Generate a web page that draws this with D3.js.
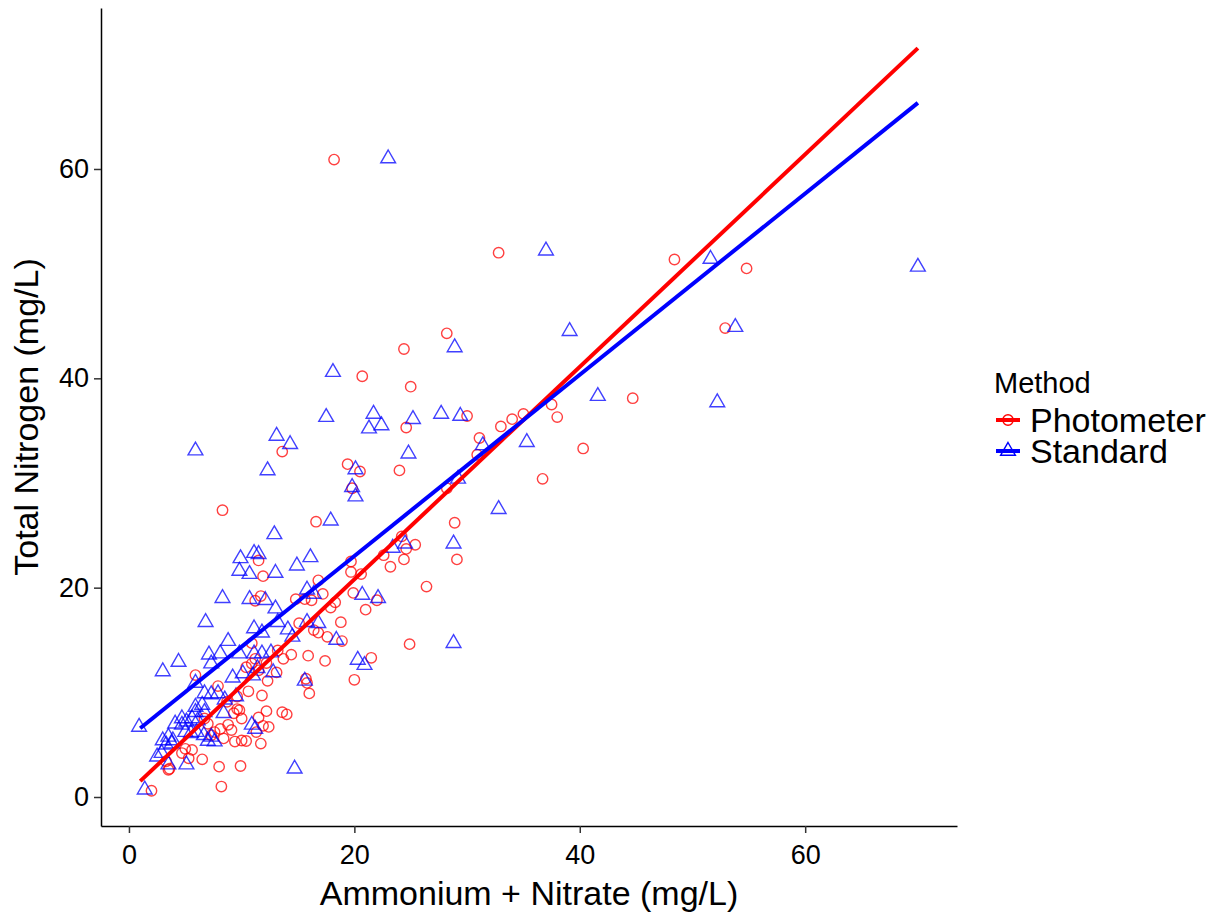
<!DOCTYPE html>
<html>
<head>
<meta charset="utf-8">
<script src="https://cdn.jsdelivr.net/npm/d3@7"></script>
<style>
  body { margin: 0; background: #fff; }
  svg { font-family: "Liberation Sans", Arial, sans-serif; }
</style>
</head>
<body>
<svg width="1219" height="917"></svg>
<script>
// Data
const methods = ["Photometer", "Standard"];

const photometer = [
    [18.2, 60.9], [32.8, 52.0], [28.2, 44.3], [24.4, 42.8], [20.7, 40.2], [25.0, 39.2],
    [44.7, 38.1], [37.5, 37.5], [38.0, 36.3], [30.0, 36.4], [34.0, 36.1], [35.0, 36.6],
    [33.0, 35.4], [24.6, 35.3], [31.1, 34.3], [30.9, 32.7], [40.3, 33.3], [36.7, 30.4],
    [28.2, 29.5], [28.9, 26.2], [29.1, 22.7], [48.4, 51.35], [54.8, 50.5], [52.9, 44.8],
    [13.6, 33.0], [24.0, 31.2], [19.4, 31.8], [20.5, 31.1], [19.8, 29.5], [16.6, 26.3],
    [11.5, 22.6], [11.9, 21.1], [24.2, 24.9], [24.6, 23.7], [25.4, 24.1], [22.6, 23.1],
    [23.2, 22.0], [24.4, 22.7], [19.7, 22.5], [19.7, 21.5], [20.6, 21.3], [26.4, 20.1],
    [16.8, 20.7], [17.2, 19.4], [19.9, 19.5], [22.0, 18.8], [15.6, 18.9], [14.8, 18.9],
    [16.2, 18.8], [11.7, 19.2], [11.2, 18.75], [18.3, 18.6], [17.9, 18.1], [21.0, 17.9],
    [18.8, 16.7], [15.1, 16.6], [16.4, 15.95], [16.8, 15.7], [17.6, 15.3], [18.9, 14.9],
    [24.9, 14.6], [13.2, 14.0], [14.4, 13.6], [13.7, 13.2], [15.9, 13.5], [17.4, 13.0],
    [21.5, 13.3], [11.2, 13.2], [12.2, 12.8], [13.1, 11.9], [12.3, 11.1], [15.7, 11.3],
    [15.8, 10.9], [16.0, 9.9], [20.0, 11.2], [11.8, 9.7], [12.2, 8.2], [13.6, 8.1],
    [14.0, 7.9], [11.5, 7.6], [11.9, 6.8], [12.4, 6.7], [11.3, 6.2], [11.7, 5.1],
    [5.9, 11.65], [7.9, 10.6], [10.4, 12.4], [10.9, 12.75], [11.5, 12.1], [10.6, 10.1],
    [9.6, 9.6], [8.7, 9.1], [9.6, 8.4], [9.8, 8.3], [10.0, 7.5], [9.3, 8.0],
    [8.8, 6.9], [8.1, 6.5], [9.1, 6.4], [8.4, 5.6], [9.4, 5.3], [10.0, 5.4],
    [10.4, 5.35], [6.7, 7.5], [7.0, 7.0], [7.6, 6.2], [7.3, 5.9], [5.0, 4.6],
    [5.6, 4.5], [4.7, 4.2], [5.3, 3.7], [6.5, 3.6], [3.3, 3.4], [3.6, 2.7],
    [3.5, 2.6], [8.0, 2.9], [9.9, 2.96], [8.2, 1.0], [2.0, 0.6], [8.3, 27.4],
    [10.9, 14.7]
];

const standard = [
    [23.0, 61.0], [37.0, 52.2], [28.9, 42.95], [39.1, 44.5], [18.1, 40.6], [41.6, 38.3],
    [17.5, 36.3], [21.7, 36.6], [25.2, 36.1], [27.7, 36.6], [29.4, 36.4], [21.3, 35.2],
    [22.4, 35.5], [31.4, 33.6], [35.3, 33.9], [29.2, 30.4], [32.8, 27.5], [28.8, 24.2],
    [28.8, 14.7], [51.6, 51.4], [70.0, 50.65], [53.8, 44.9], [52.2, 37.7], [13.1, 34.5],
    [14.3, 33.7], [24.8, 32.8], [12.3, 31.2], [20.1, 31.3], [19.8, 29.6], [20.1, 28.7],
    [17.9, 26.4], [12.9, 25.1], [11.5, 23.2], [16.1, 22.9], [14.9, 22.1], [13.0, 21.4],
    [23.4, 23.8], [24.5, 24.2], [15.8, 19.8], [16.4, 19.4], [20.7, 19.3], [22.1, 19.0],
    [12.1, 18.8], [13.0, 18.0], [15.8, 16.7], [16.8, 16.6], [14.1, 16.0], [13.2, 16.7],
    [11.8, 15.7], [14.5, 15.3], [18.4, 15.0], [11.8, 13.7], [12.6, 13.8], [20.3, 13.1],
    [20.9, 12.6], [11.4, 12.3], [12.8, 11.9], [15.6, 11.1], [11.2, 6.5], [14.7, 2.7],
    [3.0, 12.0], [4.4, 12.9], [5.9, 10.9], [6.7, 9.9], [7.3, 9.8], [7.9, 9.9],
    [9.2, 11.4], [10.1, 11.8], [11.0, 11.6], [9.5, 9.6], [8.5, 9.3], [5.9, 8.6],
    [6.5, 8.8], [6.7, 8.1], [5.9, 8.1], [5.1, 7.2], [4.1, 7.0], [4.7, 7.5],
    [5.6, 7.5], [6.1, 7.3], [8.4, 8.0], [10.9, 6.9], [7.3, 5.75], [6.0, 6.2],
    [3.5, 5.75], [3.0, 5.4], [3.9, 5.4], [3.3, 5.0], [3.8, 5.1], [6.65, 5.9],
    [7.0, 5.35], [7.6, 5.3], [5.5, 6.1], [5.0, 6.2], [4.7, 6.9], [2.5, 3.85],
    [2.9, 4.2], [3.5, 3.1], [5.1, 3.1], [1.4, 0.7], [0.9, 6.7], [5.9, 33.1],
    [9.9, 22.8], [11.1, 23.3], [9.8, 21.6], [10.7, 21.3], [8.3, 19.0], [10.7, 18.9],
    [6.8, 16.7], [11.1, 16.1], [8.8, 14.9], [7.1, 13.6], [8.1, 13.7], [9.8, 13.7],
    [7.3, 12.75], [11.1, 13.7]
];

// linear fits (lm) per method, drawn over the x range of the data
const fitRange = [1, 70];
const fitIntercept = [0.5, 5.7];
const fitSlope = [1.015, 0.866];

const xTicks = [0, 20, 40, 60];
const yTicks = [0, 20, 40, 60];
const xDomain = [-2.48, 73.47];
const yDomain = [-2.77, 75.38];

const colors = ["#FF0000", "#0000FF"];

const svg = d3.select("svg");
const panel = { left: 101, right: 957, top: 8, bottom: 826 };

const x = d3.scaleLinear().domain(xDomain).range([panel.left, panel.right]);
const y = d3.scaleLinear().domain(yDomain).range([panel.bottom, panel.top]);

// open triangle like ggplot shape 2
const triPath = "M0,-8.5L7.4,4.3L-7.4,4.3Z";

// Points: Photometer first, then Standard on top
svg.append("g")
    .selectAll("circle")
    .data(photometer)
    .enter()
    .append("circle")
    .attr("cx", d => x(d[0]))
    .attr("cy", d => y(d[1]))
    .attr("r", 5.2)
    .attr("fill", "none")
    .attr("stroke", colors[0])
    .attr("stroke-opacity", 0.75)
    .attr("stroke-width", 1.4);

svg.append("g")
    .selectAll("path")
    .data(standard)
    .enter()
    .append("path")
    .attr("d", triPath)
    .attr("transform", d => `translate(${x(d[0])},${y(d[1])})`)
    .attr("fill", "none")
    .attr("stroke", colors[1])
    .attr("stroke-opacity", 0.75)
    .attr("stroke-width", 1.4);

// Fit lines
const line = d3.line().x(d => x(d[0])).y(d => y(d[1]));
methods.forEach((m, i) => {
    const pts = fitRange.map(v => [v, fitIntercept[i] + fitSlope[i] * v]);
    svg.append("path")
        .attr("d", line(pts))
        .attr("fill", "none")
        .attr("stroke", colors[i])
        .attr("stroke-width", 4);
});

// Axes
const xAxis = svg.append("g")
    .attr("transform", `translate(0,${panel.bottom})`)
    .call(d3.axisBottom(x).tickValues(xTicks).tickSize(7).tickPadding(12).tickSizeOuter(0));

const yAxis = svg.append("g")
    .attr("transform", `translate(${panel.left},0)`)
    .call(d3.axisLeft(y).tickValues(yTicks).tickSize(7).tickPadding(5).tickSizeOuter(0));

[xAxis, yAxis].forEach(a => {
    a.select(".domain").attr("stroke", "#000").attr("stroke-width", 1.5);
    a.selectAll(".tick line").attr("stroke", "#333").attr("stroke-width", 1.5);
    a.selectAll(".tick text")
        .attr("fill", "#000")
        .style("font-size", "27px")
        .style("font-family", "'Liberation Sans', Arial, sans-serif");
});

// Axis titles
svg.append("text")
    .attr("x", (panel.left + panel.right) / 2)
    .attr("y", 905)
    .attr("text-anchor", "middle")
    .style("font-size", "34px")
    .text("Ammonium + Nitrate (mg/L)");

svg.append("text")
    .attr("transform", `translate(38,${(panel.top + panel.bottom) / 2}) rotate(-90)`)
    .attr("text-anchor", "middle")
    .style("font-size", "34px")
    .text("Total Nitrogen (mg/L)");

// Legend
const legend = svg.append("g").attr("transform", "translate(994,0)");
legend.append("text")
    .attr("x", 0)
    .attr("y", 393)
    .style("font-size", "29px")
    .text("Method");

const keyY = [420, 451];
methods.forEach((m, i) => {
    const g = legend.append("g").attr("transform", `translate(0,${keyY[i]})`);
    g.append("line")
        .attr("x1", 2).attr("x2", 26)
        .attr("stroke", colors[i])
        .attr("stroke-width", 4);
    if (i === 0) {
        g.append("circle")
            .attr("cx", 14).attr("r", 5.2)
            .attr("fill", "none")
            .attr("stroke", colors[i])
            .attr("stroke-width", 1.4);
    } else {
        g.append("path")
            .attr("d", triPath)
            .attr("transform", "translate(14,0)")
            .attr("fill", "none")
            .attr("stroke", colors[i])
            .attr("stroke-width", 1.4);
    }
    g.append("text")
        .attr("x", 36)
        .attr("y", 12)
        .style("font-size", "34px")
        .text(m);
});
</script>
</body>
</html>
